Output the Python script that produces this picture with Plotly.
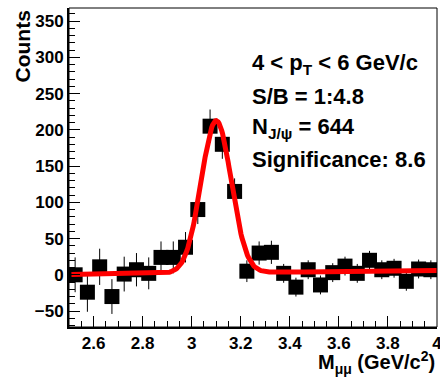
import numpy as np
import plotly.graph_objects as go

# ---- data ----
mass_bins = [2.525, 2.575, 2.625, 2.675, 2.725, 2.775, 2.825, 2.875, 2.925, 2.975,
             3.025, 3.075, 3.125, 3.175, 3.225, 3.275, 3.325, 3.375, 3.425, 3.475,
             3.525, 3.575, 3.625, 3.675, 3.725, 3.775, 3.825, 3.875, 3.925, 3.975]
counts = [0, -24, 11, -30, 1, 7, 2, 24, 24, 38,
          90, 205, 180, 115, 5, 30, 31, 2, -17, 7,
          -14, 3, 12, 2, 20, 7, 9, -9, 8, 7]
errors = [24, 27, 25, 24, 24, 23, 22, 22, 22, 21,
          20, 23, 20, 18, 15, 16, 16, 13, 13, 13,
          13, 13, 13, 13, 13, 13, 13, 13, 13, 13]

x_tick_vals = [2.6, 2.8, 3.0, 3.2, 3.4, 3.6, 3.8, 4.0]
x_tick_text = ["2.6", "2.8", "3", "3.2", "3.4", "3.6", "3.8", "4"]

# fit parameters (Gaussian peak + linear background)
fit_amp = 210.0
fit_mean = 3.100
fit_sigma = 0.061
bkg_at_lo = 0.5
bkg_at_hi = 6.0
fit_lo, fit_hi = 2.51, 4.0

x_range = [2.5, 4.0]
y_range = [-72, 368]

xf = np.linspace(fit_lo, fit_hi, 400)
bkg = bkg_at_lo + (bkg_at_hi - bkg_at_lo) * (xf - fit_lo) / (fit_hi - fit_lo)
yf = fit_amp * np.exp(-0.5 * ((xf - fit_mean) / fit_sigma) ** 2) + bkg

FONT = "Liberation Sans"

fig = go.Figure()
fig.add_trace(go.Scatter(
    x=mass_bins, y=counts, mode="markers",
    marker=dict(symbol="square", size=15, color="black", line=dict(width=0)),
    error_y=dict(type="data", array=errors, thickness=1, width=0, color="black"),
    showlegend=False, cliponaxis=True))
fig.add_trace(go.Scatter(
    x=xf, y=yf, mode="lines", line=dict(color="#ff0000", width=5),
    showlegend=False))

axis_common = dict(
    showgrid=False, zeroline=False, showline=True, linecolor="black", linewidth=2,
    ticks="inside", tickcolor="black", tickwidth=1, ticklen=11,
    tickfont=dict(family=FONT, size=17, color="black", weight="bold"),
    ticklabeloverflow="allow", automargin=False,
)
fig.update_xaxes(range=x_range, tickmode="array", tickvals=x_tick_vals, ticktext=x_tick_text,
                 minor=dict(dtick=0.05, tick0=2.5, ticks="inside", ticklen=6, tickcolor="black", tickwidth=1),
                 **axis_common)
fig.update_yaxes(range=y_range, dtick=50, tick0=0,
                 minor=dict(dtick=10, ticks="inside", ticklen=6, tickcolor="black", tickwidth=1),
                 **axis_common)

# frame top/right
fig.add_shape(type="rect", xref="paper", yref="paper", x0=0, x1=1, y0=0, y1=1,
              line=dict(color="black", width=1))

W, H = 440, 377
ml, mr, mt, mb = 69, 3, 8, 50
pw, ph = W - ml - mr, H - mt - mb

def px(xp):
    return (xp - ml) / pw

def py(yp):
    return (H - mb - yp) / ph

tfont = dict(family=FONT, size=22, color="black", weight="bold")
lines = ["4 &lt; p<sub>T</sub> &lt; 6 GeV/c",
         "S/B = 1:4.8",
         "N<sub>J/ψ</sub> = 644",
         "Significance: 8.6"]
centers = [64, 96, 128, 159]
for t, c in zip(lines, centers):
    fig.add_annotation(text=t, xref="paper", yref="paper", x=px(250), y=py(c),
                       xanchor="left", yanchor="middle", showarrow=False, font=tfont)

fig.add_annotation(text="Counts", xref="paper", yref="paper", x=px(22), y=py(46.5),
                   xanchor="center", yanchor="middle", textangle=-90, showarrow=False,
                   font=dict(family=FONT, size=21, color="black", weight="bold"))
fig.add_annotation(text="M<sub>μμ</sub> (GeV/c<sup>2</sup>)", xref="paper", yref="paper",
                   x=1.0, y=py(362), xanchor="right", yanchor="middle", showarrow=False,
                   font=dict(family=FONT, size=20, color="black", weight="bold"))

fig.update_layout(width=W, height=H, margin=dict(l=ml, r=mr, t=mt, b=mb, autoexpand=False),
                  plot_bgcolor="white", paper_bgcolor="white")
fig.write_html("out.html")
